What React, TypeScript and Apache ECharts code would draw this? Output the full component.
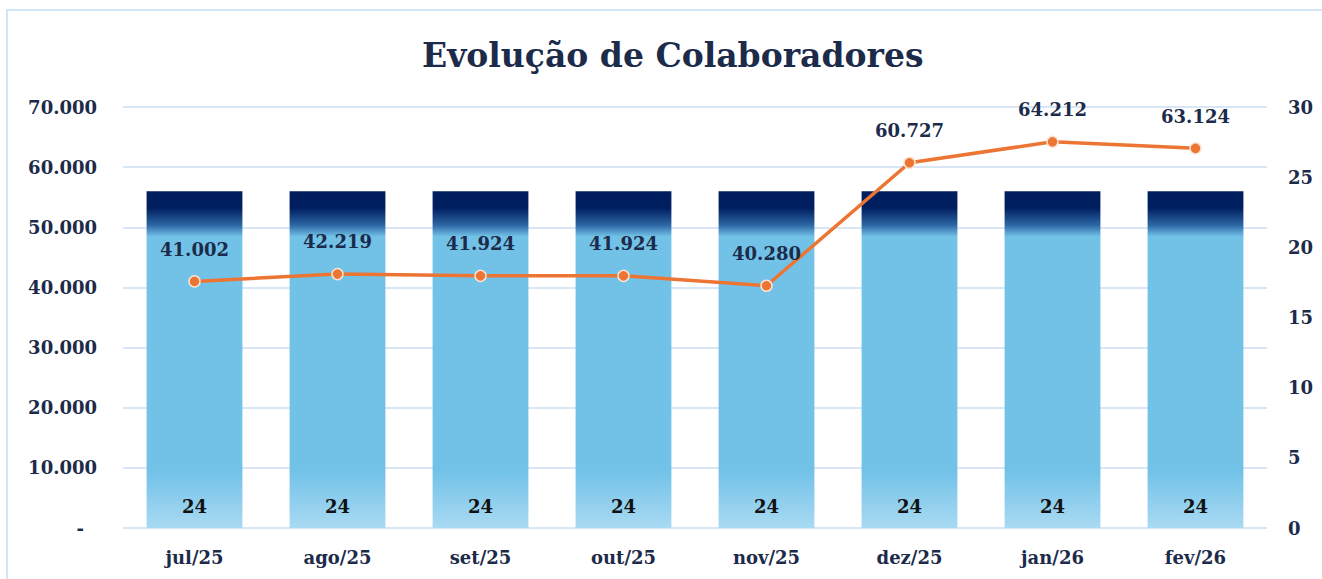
import React, { useEffect, useRef } from "react";
import * as echarts from "echarts";

const categories = ["jul/25", "ago/25", "set/25", "out/25", "nov/25", "dez/25", "jan/26", "fev/26"];
const barValues = [24, 24, 24, 24, 24, 24, 24, 24];
const lineValues = [41002, 42219, 41924, 41924, 40280, 60727, 64212, 63124];

const FONT = "'DejaVu Serif', 'Liberation Serif', serif";
const TEXT = "#1c2b4a";

function fmt(v: number): string {
  if (v === 0) return "-";
  return String(v).replace(/\B(?=(\d{3})+(?!\d))/g, ".");
}

export default function App() {
  const ref = useRef<HTMLDivElement>(null);
  useEffect(() => {
    if (!ref.current) return;
    const chart = echarts.init(ref.current, null, { renderer: "svg" });
    chart.setOption({
      animation: false,
      backgroundColor: "#ffffff",
      title: {
        text: "Evolução de Colaboradores",
        left: 417,
        top: 34,
        textStyle: { fontFamily: FONT, fontSize: 33, fontWeight: "bold", color: TEXT },
      },
      graphic: [
        {
          type: "rect",
          shape: { x: 7, y: 10, width: 1330, height: 600 },
          style: { fill: "none", stroke: "#d3e4f6", lineWidth: 2 },
          silent: true,
          z: -1,
        },
      ],
      grid: { left: 123, right: 55, top: 107, bottom: 51 },
      xAxis: {
        type: "category",
        data: categories,
        axisLine: { show: false },
        axisTick: { show: false },
        axisLabel: { fontFamily: FONT, fontSize: 18, fontWeight: "bold", color: TEXT, margin: 20 },
      },
      yAxis: [
        {
          type: "value",
          min: 0,
          max: 70000,
          interval: 10000,
          position: "left",
          axisLine: { show: false },
          axisTick: { show: false },
          splitLine: { lineStyle: { color: "#d9e6f6", width: 2 } },
          axisLabel: {
            fontFamily: FONT,
            fontSize: 18,
            fontWeight: "bold",
            color: TEXT,
            margin: 26,
            formatter: (v: number) => (v === 0 ? "{d|-}" : fmt(v)),
            rich: {
              d: {
                fontFamily: FONT,
                fontSize: 18,
                fontWeight: "bold",
                color: TEXT,
                padding: [0, 13, 0, 0],
              },
            },
          },
        },
        {
          type: "value",
          min: 0,
          max: 30,
          interval: 5,
          position: "right",
          axisLine: { show: false },
          axisTick: { show: false },
          splitLine: { show: false },
          axisLabel: { fontFamily: FONT, fontSize: 18, fontWeight: "bold", color: TEXT, margin: 21 },
        },
      ],
      series: [
        {
          type: "bar",
          yAxisIndex: 1,
          data: barValues,
          barCategoryGap: "33%",
          itemStyle: {
            color: new echarts.graphic.LinearGradient(0, 0, 0, 1, [
              { offset: 0, color: "#001d5c" },
              { offset: 0.05, color: "#001f60" },
              { offset: 0.1, color: "#2c65a3" },
              { offset: 0.135, color: "#72c2e8" },
              { offset: 0.83, color: "#72c2e8" },
              { offset: 1, color: "#a9daf2" },
            ]),
          },
          label: {
            show: true,
            position: "insideBottom",
            distance: 13,
            fontFamily: FONT,
            fontSize: 18,
            fontWeight: "bold",
            color: "#111111",
          },
          z: 1,
        },
        {
          type: "line",
          yAxisIndex: 0,
          data: lineValues,
          symbol: "circle",
          symbolSize: 11,
          lineStyle: { color: "#ec7533", width: 3.5 },
          itemStyle: { color: "#ec7533", borderColor: "#fbe2d2", borderWidth: 1.5 },
          label: {
            show: true,
            position: "top",
            distance: 17,
            fontFamily: FONT,
            fontSize: 18,
            fontWeight: "bold",
            color: TEXT,
            formatter: (p: any) => fmt(p.value),
          },
          z: 3,
        },
      ],
    });
    return () => chart.dispose();
  }, []);
  return (
    <div
      ref={ref}
      style={{ position: "fixed", left: 0, top: 0, width: 1322, height: 579 }}
    />
  );
}
